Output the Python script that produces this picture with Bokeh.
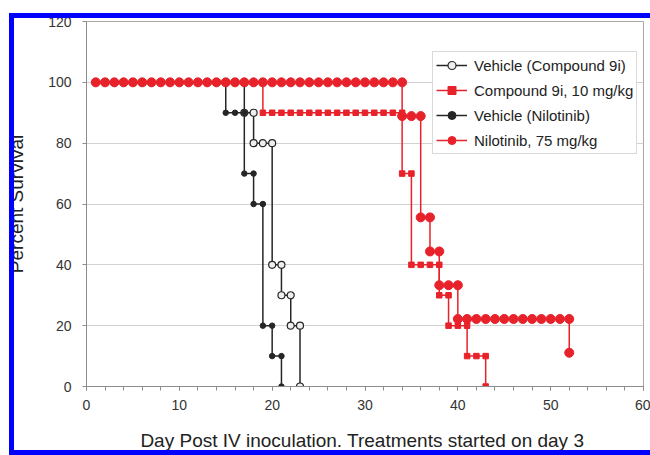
from bokeh.plotting import figure
from bokeh.layouts import column
from bokeh.models import Range1d, FixedTicker, Legend, LegendItem, Spacer
from bokeh.embed import file_html
from bokeh.resources import INLINE

# ---------------- data ----------------
# Vehicle (Compound 9i)
VEH9I_DAY = [1, 2, 3, 4, 5, 6, 7, 8, 9, 10, 11, 12, 13, 14, 15, 16, 17,
             17, 18, 18, 19, 20, 20, 21, 21, 22, 22, 23, 23]
VEH9I_PCT = [100, 100, 100, 100, 100, 100, 100, 100, 100, 100, 100, 100, 100, 100, 100, 100, 100,
             90, 90, 80, 80, 80, 40, 40, 30, 30, 20, 20, 0]

# Compound 9i, 10 mg/kg
C9I_DAY = [1, 2, 3, 4, 5, 6, 7, 8, 9, 10, 11, 12, 13, 14, 15, 16, 17, 18, 19,
           19, 20, 21, 22, 23, 24, 25, 26, 27, 28, 29, 30, 31, 32, 33, 34,
           34, 35, 35, 36, 37, 38, 38, 39, 39, 40, 41, 41, 42, 43, 43]
C9I_PCT = [100, 100, 100, 100, 100, 100, 100, 100, 100, 100, 100, 100, 100, 100, 100, 100, 100, 100, 100,
           90, 90, 90, 90, 90, 90, 90, 90, 90, 90, 90, 90, 90, 90, 90, 90,
           70, 70, 40, 40, 40, 40, 30, 30, 20, 20, 20, 10, 10, 10, 0]

# Vehicle (Nilotinib)
VEHNIL_DAY = [1, 2, 3, 4, 5, 6, 7, 8, 9, 10, 11, 12, 13, 14, 15,
              15, 16, 17, 17, 18, 18, 19, 19, 20, 20, 21, 21]
VEHNIL_PCT = [100, 100, 100, 100, 100, 100, 100, 100, 100, 100, 100, 100, 100, 100, 100,
              90, 90, 90, 70, 70, 60, 60, 20, 20, 10, 10, 0]

# Nilotinib, 75 mg/kg
NIL_DAY = [1, 2, 3, 4, 5, 6, 7, 8, 9, 10, 11, 12, 13, 14, 15, 16, 17, 18, 19, 20,
           21, 22, 23, 24, 25, 26, 27, 28, 29, 30, 31, 32, 33, 34,
           34, 35, 36, 36, 37, 37, 38, 38, 39, 40,
           40, 41, 42, 43, 44, 45, 46, 47, 48, 49, 50, 51, 52, 52]
NIL_PCT = [100, 100, 100, 100, 100, 100, 100, 100, 100, 100, 100, 100, 100, 100, 100, 100, 100, 100, 100, 100,
           100, 100, 100, 100, 100, 100, 100, 100, 100, 100, 100, 100, 100, 100,
           88.9, 88.9, 88.9, 55.6, 55.6, 44.4, 44.4, 33.3, 33.3, 33.3,
           22.2, 22.2, 22.2, 22.2, 22.2, 22.2, 22.2, 22.2, 22.2, 22.2, 22.2, 22.2, 22.2, 11.1]

LABELS = ["Vehicle (Compound 9i)", "Compound 9i, 10 mg/kg",
          "Vehicle (Nilotinib)", "Nilotinib, 75 mg/kg"]
Y_TICKS = [0, 20, 40, 60, 80, 100, 120]
X_TICKS = [0, 10, 20, 30, 40, 50, 60]
X_MINOR = [0, 2, 4, 6, 8, 10, 12, 14, 16, 18, 20, 22, 24, 26, 28, 30,
           32, 34, 36, 38, 40, 42, 44, 46, 48, 50, 52, 54, 56, 58, 60]
X_TITLE = "Day Post IV inoculation.  Treatments started on day 3"
Y_TITLE = "Percent Survival"

# ---------------- figure ----------------
FONT = "Liberation Sans"
RED = "#e8222a"
BLACK = "#262626"
AXIS_GRAY = "#8c8c8c"
BLUE = "#0000ff"

fig = figure(width=650, height=455, output_backend="svg", toolbar_location=None,
             x_range=Range1d(0, 60), y_range=Range1d(0, 120),
             min_border_left=86, min_border_right=7, min_border_top=21,
             min_border_bottom=69, background_fill_color="white",
             border_fill_color="white")

fig.outline_line_color = "#a8a8a8"
fig.xgrid.grid_line_color = None
fig.ygrid.grid_line_color = "#d2d2d2"
fig.ygrid.ticker = FixedTicker(ticks=Y_TICKS)

fig.xaxis.ticker = FixedTicker(ticks=X_TICKS, minor_ticks=X_MINOR)
fig.yaxis.ticker = FixedTicker(ticks=Y_TICKS)
for ax in (fig.xaxis, fig.yaxis):
    ax.axis_line_color = AXIS_GRAY
    ax.major_tick_line_color = AXIS_GRAY
    ax.major_tick_in = 0
    ax.major_tick_out = 4
    ax.major_label_text_font = FONT
    ax.major_label_text_font_size = "14px"
    ax.major_label_text_color = "#333333"
    ax.axis_label_text_font = FONT
    ax.axis_label_text_font_style = "normal"
    ax.axis_label_text_color = "#222222"
fig.xaxis.minor_tick_line_color = AXIS_GRAY
fig.xaxis.minor_tick_in = 0
fig.xaxis.minor_tick_out = 4
fig.yaxis.minor_tick_line_color = None
fig.xaxis.major_label_standoff = 9
fig.yaxis.major_label_standoff = 11

fig.yaxis.axis_label = Y_TITLE
fig.yaxis.axis_label_text_font_size = "19px"
fig.yaxis.axis_label_standoff = 18

fig.xaxis.axis_label = X_TITLE
fig.xaxis.axis_label_text_font_size = "19px"
fig.xaxis.axis_label_standoff = 17

# ---------------- series ----------------
l1 = fig.line(VEH9I_DAY, VEH9I_PCT, line_color=BLACK, line_width=1.5)
s1 = fig.scatter(VEH9I_DAY, VEH9I_PCT, marker="circle", size=7,
                 line_color=BLACK, line_width=1.2, fill_color="#eeeeee")

l3 = fig.line(VEHNIL_DAY, VEHNIL_PCT, line_color=BLACK, line_width=1.5)
s3 = fig.scatter(VEHNIL_DAY, VEHNIL_PCT, marker="circle", size=5.5,
                 line_color=BLACK, fill_color=BLACK)

l2 = fig.line(C9I_DAY, C9I_PCT, line_color=RED, line_width=1.5)
s2 = fig.scatter(C9I_DAY, C9I_PCT, marker="square", size=5.5,
                 line_color=RED, fill_color=RED)

l4 = fig.line(NIL_DAY, NIL_PCT, line_color=RED, line_width=1.5)
s4 = fig.scatter(NIL_DAY, NIL_PCT, marker="circle", size=9,
                 line_color=RED, fill_color=RED)

legend = Legend(items=[LegendItem(label=LABELS[0], renderers=[l1, s1]),
                       LegendItem(label=LABELS[1], renderers=[l2, s2]),
                       LegendItem(label=LABELS[2], renderers=[l3, s3]),
                       LegendItem(label=LABELS[3], renderers=[l4, s4])],
                location=(346, 232))
legend.label_text_font = FONT
legend.label_text_font_size = "15px"
legend.label_text_color = "#222222"
legend.glyph_width = 31
legend.glyph_height = 20
legend.label_height = 20
legend.spacing = 5
legend.padding = 3
legend.margin = 0
legend.label_standoff = 7
legend.border_line_color = "#b4b4b4"
legend.background_fill_color = "white"
legend.background_fill_alpha = 1.0
fig.add_layout(legend)


# blue frame of the source image (left, top and bottom edges), laid over the figure
def blue_bar(left, top, w, h):
    return Spacer(width=w, height=h,
                  styles={"position": "absolute", "left": f"{left}px",
                          "top": f"{top}px", "background-color": BLUE,
                          "z-index": "10"})


bars = [blue_bar(9, 13, 5, 442), blue_bar(9, 13, 641, 5), blue_bar(9, 450, 641, 5)]

p = column(fig, *bars, width=650, height=455,
           styles={"overflow": "hidden", "position": "relative"})

open("out.html", "w").write(file_html(p, INLINE))
